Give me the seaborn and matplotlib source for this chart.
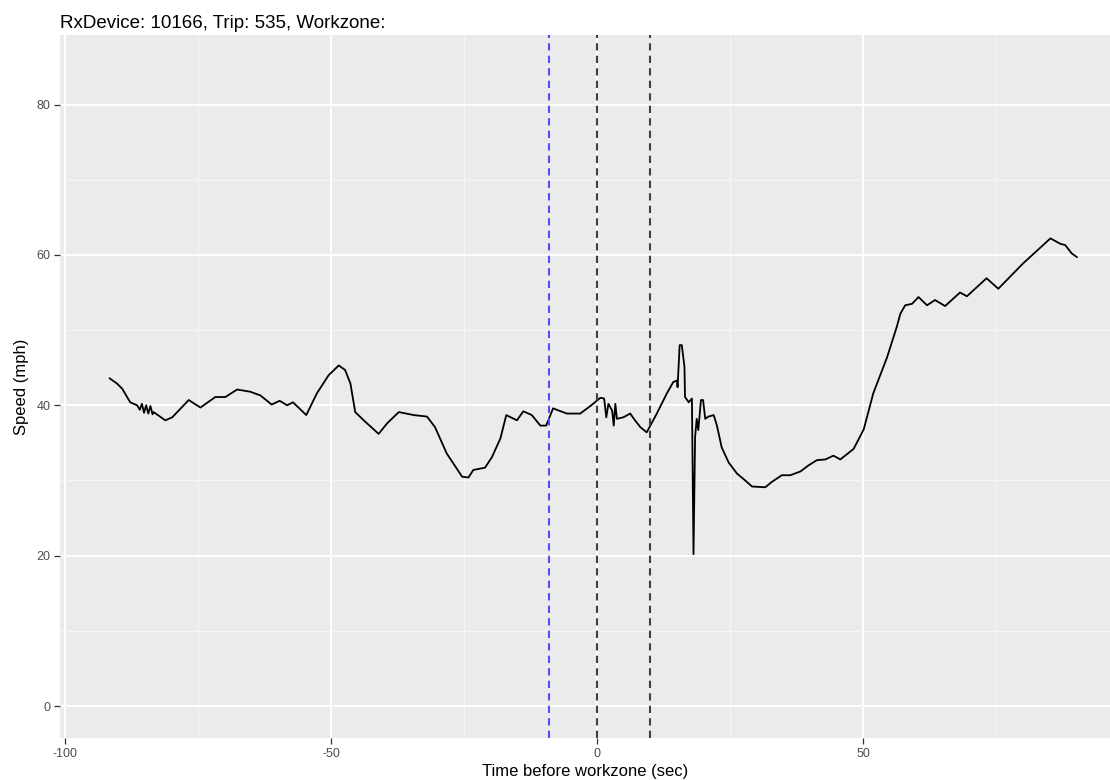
import matplotlib
matplotlib.use("Agg")
import matplotlib.pyplot as plt
import seaborn as sns
import pandas as pd

# ---- data ----
time_sec = [-91.7, -90.3, -89.3, -87.8, -86.5, -86.0, -85.6, -85.2, -84.8, -84.4, -84.0, -83.6,
            -83.4, -81.2, -79.9, -76.8, -74.6, -71.8, -69.9, -67.7, -65.2, -63.3, -61.2, -59.7,
            -58.3, -57.2, -54.7, -52.7, -50.5, -48.6, -47.4, -46.4, -45.5, -43.9, -41.1, -39.5,
            -37.3, -34.5, -32.0, -30.5, -28.3, -25.4, -24.2, -23.3, -21.1, -19.8, -18.2, -17.1,
            -15.1, -13.9, -12.3, -10.7, -9.6, -8.3, -7.6, -5.7, -3.2, -1.3, 0.6, 1.3, 1.7, 2.1,
            2.8, 3.1, 3.4, 3.7, 4.9, 6.2, 7.1, 8.1, 9.3, 11.2, 13.1, 14.3, 15.0, 15.1, 15.5, 15.9,
            16.4, 16.5, 17.2, 17.8, 18.1, 18.4, 18.7, 19.0, 19.5, 19.9, 20.3, 20.9, 21.9, 22.5,
            23.4, 24.7, 26.3, 27.5, 29.1, 31.6, 32.8, 34.7, 36.3, 38.2, 39.7, 41.3, 42.9, 44.4,
            45.7, 48.2, 50.1, 51.9, 54.5, 56.3, 57.0, 57.9, 59.2, 60.4, 62.0, 63.5, 65.4, 68.2,
            69.5, 73.2, 75.4, 80.1, 85.2, 87.0, 88.0, 89.2, 90.2]
speed_mph = [43.6, 42.9, 42.2, 40.4, 40.0, 39.4, 40.2, 39.0, 40.0, 38.9, 39.9, 38.8,
             39.1, 38.0, 38.4, 40.7, 39.7, 41.1, 41.1, 42.1, 41.8, 41.3, 40.1, 40.6,
             40.0, 40.4, 38.7, 41.6, 44.0, 45.3, 44.7, 42.9, 39.1, 38.0, 36.2, 37.6,
             39.1, 38.7, 38.5, 37.1, 33.6, 30.5, 30.4, 31.4, 31.7, 33.1, 35.6, 38.7,
             38.0, 39.2, 38.7, 37.3, 37.3, 39.6, 39.4, 38.9, 38.9, 39.9, 41.0, 40.9, 38.4, 40.2,
             39.3, 37.3, 40.2, 38.2, 38.4, 38.9, 38.0, 37.1, 36.4, 38.9, 41.6, 43.1, 43.3, 42.4, 48.0, 48.0,
             45.1, 41.1, 40.4, 40.9, 20.2, 35.8, 38.2, 36.7, 40.7, 40.7, 38.2, 38.5, 38.7, 37.3,
             34.4, 32.4, 30.9, 30.2, 29.2, 29.1, 29.8, 30.7, 30.7, 31.2, 32.0, 32.7, 32.8, 33.3,
             32.8, 34.2, 36.8, 41.6, 46.4, 50.4, 52.2, 53.3, 53.5, 54.4, 53.3, 54.0, 53.2, 55.0,
             54.5, 56.9, 55.5, 58.9, 62.2, 61.5, 61.3, 60.2, 59.7]

blue_line_x = [-9]
black_lines_x = [0, 10]

x_major = [-100, -50, 0, 50]
x_minor = [-75, -25, 25, 75]
y_major = [0, 20, 40, 60, 80]
y_minor = [10, 30, 50, 70]

title = "RxDevice: 10166, Trip: 535, Workzone:"
xlabel = "Time before workzone (sec)"
ylabel = "Speed (mph)"

df = pd.DataFrame({"time": time_sec, "speed": speed_mph})

sns.set_theme(style="darkgrid")
plt.rcParams['font.family'] = ['Liberation Sans', 'DejaVu Sans']

fig = plt.figure(figsize=(11.1, 7.8), dpi=100)
fig.patch.set_facecolor("white")
ax = fig.add_axes([60 / 1110, 42 / 780, 1050 / 1110, 703 / 780])
ax.set_facecolor("#EBEBEB")

ax.set_xlim(-101, 96.4)
ax.set_ylim(-4.25, 89.25)
ax.set_xticks(x_major)
ax.set_xticks(x_minor, minor=True)
ax.set_yticks(y_major)
ax.set_yticks(y_minor, minor=True)
ax.grid(which="major", color="white", linewidth=1.4)
ax.grid(which="minor", color="#F7F7F7", linewidth=0.7)
ax.set_axisbelow(True)
for s in ax.spines.values():
    s.set_visible(False)

sns.lineplot(data=df, x="time", y="speed", ax=ax, color="black", linewidth=1.3,
             estimator=None, sort=False)

for xv in blue_line_x:
    ax.axvline(xv, color="#5050F0", linewidth=1.5, dashes=(3.5, 2.5))
for xv in black_lines_x:
    ax.axvline(xv, color="#404040", linewidth=1.5, dashes=(3.5, 2.5))

ax.tick_params(axis="both", which="major", bottom=True, left=True, length=4, width=0.9,
               color="#333333", labelcolor="#4D4D4D", labelsize=9, pad=3)
ax.tick_params(axis="both", which="minor", bottom=False, left=False, length=0)
ax.set_xticklabels([str(v) for v in x_major])
ax.set_yticklabels([str(v) for v in y_major])

ax.set_xlabel(xlabel, fontsize=12, color="black", labelpad=3)
ax.set_ylabel(ylabel, fontsize=12, color="black", labelpad=5)
ax.set_title(title, loc="left", fontsize=13.5, color="black", pad=5)

fig.savefig("out.png", dpi=100, facecolor="white")
